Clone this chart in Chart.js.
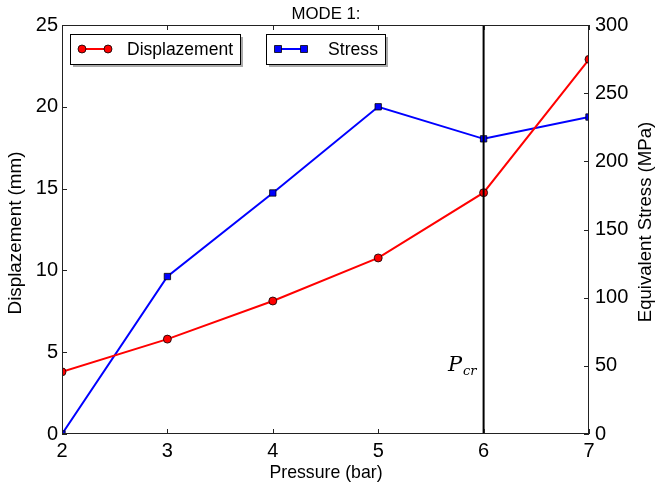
<!DOCTYPE html>
<html>
<head>
<meta charset="utf-8">
<script src="https://cdn.jsdelivr.net/npm/chart.js@4"></script>
<style>
  html, body { margin: 0; padding: 0; background: #fff; }
  #wrap { width: 656px; height: 483px; }
</style>
</head>
<body>
<div id="wrap"><canvas id="chart" width="656" height="483"></canvas></div>
<script>
// Datos
const pressure = [2, 3, 4, 5, 6, 7];
const displacement = [3.8, 5.8, 8.13, 10.76, 14.75, 22.9];
const stress = [0, 115.5, 176.8, 240, 216.5, 232.5];
const criticalPressure = 6;
const xTicks = [2, 3, 4, 5, 6, 7];
const leftTicks = [0, 5, 10, 15, 20, 25];
const rightTicks = [0, 50, 100, 150, 200, 250, 300];

const FONT = '"Liberation Sans", Arial, sans-serif';

// Texto centrado; el tamaño de letra se ajusta al ancho medido en el original
function drawText(ctx, text, cx, cy, width, angle) {
    ctx.save();
    ctx.font = '10px ' + FONT;
    const size = 10 * width / ctx.measureText(text).width;
    ctx.font = size.toFixed(1) + 'px ' + FONT;
    ctx.translate(cx, cy);
    if (angle) ctx.rotate(angle);
    ctx.textAlign = 'center';
    ctx.textBaseline = 'middle';
    ctx.fillStyle = '#000';
    ctx.fillText(text, 0, 0);
    ctx.restore();
}

// Ticks hacia dentro, marco, línea crítica, leyendas y títulos (estilo matplotlib)
const decorPlugin = {
    id: 'decor',
    afterDatasetsDraw(chart) {
        const ctx = chart.ctx;
        const a = chart.chartArea;
        const x = chart.scales.x, yl = chart.scales.y, yr = chart.scales.y2;

        // línea vertical P_cr
        const px = x.getPixelForValue(criticalPressure);
        ctx.save();
        ctx.strokeStyle = '#000';
        ctx.lineWidth = 2;
        ctx.beginPath();
        ctx.moveTo(px, a.top);
        ctx.lineTo(px, a.bottom);
        ctx.stroke();

        // marco
        ctx.lineWidth = 1;
        ctx.strokeStyle = '#222';
        ctx.strokeRect(a.left + 0.5, a.top + 0.5, a.right - a.left - 1, a.bottom - a.top - 1);

        // ticks hacia dentro
        const T = 5;
        ctx.beginPath();
        xTicks.forEach(v => {
            const p = Math.round(x.getPixelForValue(v)) + 0.5;
            ctx.moveTo(p, a.bottom); ctx.lineTo(p, a.bottom - T);
            ctx.moveTo(p, a.top); ctx.lineTo(p, a.top + T);
        });
        leftTicks.forEach(v => {
            const p = Math.round(yl.getPixelForValue(v)) + 0.5;
            ctx.moveTo(a.left, p); ctx.lineTo(a.left + T, p);
        });
        rightTicks.forEach(v => {
            const p = Math.round(yr.getPixelForValue(v)) + 0.5;
            ctx.moveTo(a.right, p); ctx.lineTo(a.right - T, p);
        });
        ctx.stroke();

        // etiqueta P_cr
        ctx.fillStyle = '#000';
        ctx.textBaseline = 'alphabetic';
        ctx.textAlign = 'left';
        ctx.font = 'italic 21px "DejaVu Serif", "Liberation Serif", serif';
        ctx.fillText('P', 448, 371);
        ctx.font = 'italic 13px "DejaVu Serif", "Liberation Serif", serif';
        ctx.fillText('cr', 463, 375);

        // leyendas
        drawLegendBox(ctx, 70, 34, 170, 30, 'Displazement', 'circle', 'red', 127, 106);
        drawLegendBox(ctx, 266, 34, 119, 30, 'Stress', 'rect', 'blue', 328, 50);

        // títulos
        drawText(ctx, 'MODE 1:', 326, 14, 69, 0);
        drawText(ctx, 'Pressure (bar)', 326, 473, 113, 0);
        drawText(ctx, 'Displazement (mm)', 16, 233, 163, -Math.PI / 2);
        drawText(ctx, 'Equivalent Stress (MPa)', 646, 222, 201, -Math.PI / 2);

        ctx.restore();
    }
};

function drawLegendBox(ctx, bx, by, bw, bh, label, shape, color, textX, textW) {
    ctx.save();
    ctx.fillStyle = '#aaa';
    ctx.fillRect(bx + 3, by + 3, bw, bh);
    ctx.fillStyle = '#fff';
    ctx.fillRect(bx, by, bw, bh);
    ctx.strokeStyle = '#000';
    ctx.lineWidth = 1;
    ctx.strokeRect(bx + 0.5, by + 0.5, bw, bh);

    const cy = by + bh / 2;
    const x1 = bx + 12, x2 = bx + 38;
    ctx.strokeStyle = color;
    ctx.lineWidth = 2;
    ctx.beginPath();
    ctx.moveTo(x1, cy); ctx.lineTo(x2, cy);
    ctx.stroke();
    ctx.fillStyle = color;
    ctx.strokeStyle = '#000';
    ctx.lineWidth = 0.8;
    [x1, x2].forEach(mx => {
        ctx.beginPath();
        if (shape === 'circle') ctx.arc(mx, cy, 4, 0, Math.PI * 2);
        else ctx.rect(mx - 3.5, cy - 3.5, 7, 7);
        ctx.fill();
        ctx.stroke();
    });
    ctx.restore();

    drawText(ctx, label, textX + textW / 2, cy + 1, textW, 0);
}

const ctx = document.getElementById('chart');
new Chart(ctx, {
    type: 'line',
    data: {
        datasets: [
            {
                label: 'Displazement',
                data: pressure.map((p, i) => ({ x: p, y: displacement[i] })),
                yAxisID: 'y',
                borderColor: 'red',
                backgroundColor: 'red',
                borderWidth: 2,
                pointStyle: 'circle',
                pointRadius: 4,
                pointBorderColor: '#000',
                pointBorderWidth: 0.8,
                pointBackgroundColor: 'red',
                tension: 0,
                clip: 0,
            },
            {
                label: 'Stress',
                data: pressure.map((p, i) => ({ x: p, y: stress[i] })),
                yAxisID: 'y2',
                borderColor: 'blue',
                backgroundColor: 'blue',
                borderWidth: 2,
                pointStyle: 'rect',
                pointRadius: 4.5,
                pointBorderColor: '#000',
                pointBorderWidth: 0.8,
                pointBackgroundColor: 'blue',
                tension: 0,
                clip: 0,
            },
        ]
    },
    options: {
        responsive: false,
        animation: false,
        devicePixelRatio: 1,
        layout: { padding: { top: 25, left: 0, right: 0, bottom: 0 } },
        plugins: {
            legend: { display: false },
            title: { display: false },
            tooltip: { enabled: false },
        },
        scales: {
            x: {
                type: 'linear',
                min: 2,
                max: 7,
                afterBuildTicks: s => { s.ticks = xTicks.map(v => ({ value: v })); },
                afterFit: s => { s.height = 49; },
                grid: { display: false, drawTicks: false },
                border: { display: false },
                ticks: {
                    font: { family: FONT, size: 20 },
                    color: '#000',
                    padding: 5,
                    maxRotation: 0,
                },
            },
            y: {
                position: 'left',
                min: 0,
                max: 25,
                afterBuildTicks: s => { s.ticks = leftTicks.map(v => ({ value: v })); },
                afterFit: s => { s.width = 62; },
                grid: { display: false, drawTicks: false },
                border: { display: false },
                ticks: {
                    font: { family: FONT, size: 20 },
                    color: '#000',
                    padding: 4,
                },
            },
            y2: {
                position: 'right',
                min: 0,
                max: 300,
                afterBuildTicks: s => { s.ticks = rightTicks.map(v => ({ value: v })); },
                afterFit: s => { s.width = 67; },
                grid: { display: false, drawTicks: false },
                border: { display: false },
                ticks: {
                    font: { family: FONT, size: 20 },
                    color: '#000',
                    padding: 6,
                },
            },
        }
    },
    plugins: [decorPlugin]
});
</script>
</body>
</html>
